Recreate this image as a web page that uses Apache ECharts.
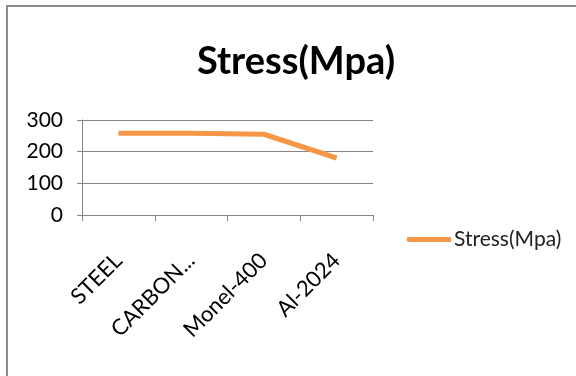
<!DOCTYPE html>
<html>
<head>
<meta charset="utf-8">
<script src="https://cdn.jsdelivr.net/npm/echarts@6/dist/echarts.min.js"></script>
<style>
  html, body { margin: 0; padding: 0; background: #fff; }
  #frame { position: absolute; left: 6px; top: 5px; width: 580px; height: 380px; border: 2px solid #8c8c8c; box-sizing: border-box; }
  #chart { position: absolute; left: 0; top: 0; width: 576px; height: 376px; }
</style>
</head>
<body>
<div id="frame"></div>
<div id="chart"></div>
<script>
const categories = ['STEEL', 'CARBON...', 'Monel-400', 'Al-2024'];
const stressValues = [258, 258, 255, 180];
const seriesName = 'Stress(Mpa)';

const chart = echarts.init(document.getElementById('chart'));

// Lato is the closest installed face to Calibri
const font = 'Lato, "Open Sans", sans-serif';

const option = {
    animation: false,
    title: {
        text: 'Stress(Mpa)',
        left: 291,
        textAlign: 'center',
        top: 38,
        textStyle: {
            fontFamily: font,
            fontWeight: 'bold',
            fontSize: 38,
            color: '#000'
        }
    },
    legend: {
        data: [seriesName],
        left: 402,
        top: 224,
        itemWidth: 44,
        itemHeight: 5,
        itemGap: 4,
        icon: 'roundRect',
        textStyle: {
            fontFamily: font,
            fontSize: 21,
            color: '#222',
            padding: [0, 0, 0, -2]
        }
    },
    grid: {
        left: 82,
        right: 203,
        top: 120,
        bottom: 161
    },
    xAxis: {
        type: 'category',
        data: categories,
        boundaryGap: true,
        axisLine: { lineStyle: { color: '#868686', width: 1 } },
        axisTick: { show: true, length: 6, lineStyle: { color: '#868686' } },
        axisLabel: {
            rotate: 45,
            margin: 42,
            fontFamily: font,
            fontSize: 22,
            color: '#000'
        }
    },
    yAxis: {
        type: 'value',
        min: 0,
        max: 300,
        interval: 100,
        axisLine: { show: true, lineStyle: { color: '#868686', width: 1 } },
        axisTick: { show: true, length: 5, lineStyle: { color: '#868686' } },
        splitLine: { lineStyle: { color: '#868686', width: 1 } },
        axisLabel: {
            margin: 19,
            fontFamily: font,
            fontSize: 21,
            color: '#000'
        }
    },
    series: [
        {
            name: seriesName,
            type: 'line',
            data: stressValues,
            symbol: 'none',
            lineStyle: { width: 5, color: '#F79646' },
            itemStyle: { color: '#F79646' }
        }
    ]
};

chart.setOption(option);
</script>
</body>
</html>
